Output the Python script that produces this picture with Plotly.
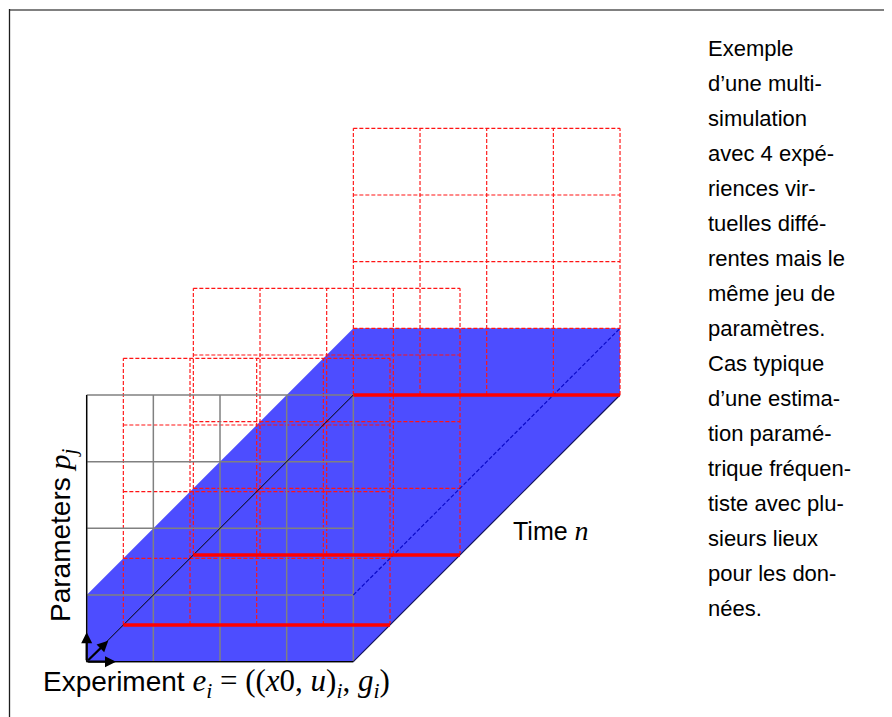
import plotly.graph_objects as go

# ---------------- data (diagram units: 1 = one grid cell) ----------------
n_cells = 4                      # experiments x parameters grid size
red_depths = [0.55, 1.6, 4.0]    # depth (time) positions of the dashed experiment grids
back_depth = 4.0                 # depth of the time slab
slab_height = 1                  # parameter thickness of the blue slab
axis_arrow_len = [0.44, 0.44, 0.45]   # up, right, diagonal arrow lengths

right_text_lines = [
    "Exemple", "d\u2019une multi-", "simulation", "avec 4 exp\u00e9-",
    "riences vir-", "tuelles diff\u00e9-", "rentes mais le", "m\u00eame jeu de",
    "param\u00e8tres.", "Cas typique", "d\u2019une estima-", "tion param\u00e9-",
    "trique fr\u00e9quen-", "tiste avec plu-", "sieurs lieux", "pour les don-",
    "n\u00e9es.",
]

label_experiment = "Experiment"
label_parameters = "Parameters"
label_time = "Time"

# ---------------- page geometry ----------------
W, H = 892, 717
PAGE = 8          # browser body margin
CELL = 66.67
OX, OY = 86.67, 661.67  # page-pixel position of the diagram origin


def ux(px):
    return (px - OX) / CELL


def vy(py):
    return (OY - py) / CELL


SANS = "Liberation Sans, Arial, Helvetica, sans-serif"
BLUE = "rgb(77,77,255)"
DASH = "4px,2px"

fig = go.Figure()


def seg(x0, y0, x1, y1, color, width, dash="solid"):
    fig.add_trace(go.Scatter(x=[x0, x1], y=[y0, y1], mode="lines",
                             line=dict(color=color, width=width, dash=dash),
                             hoverinfo="skip", showlegend=False))


# blue time slab (bottom parameter row extruded along time)
D = back_depth
hx = [0, n_cells, n_cells + D, n_cells + D, D, 0, 0]
hy = [0, 0, D, slab_height + D, slab_height + D, slab_height, 0]
fig.add_trace(go.Scatter(x=hx, y=hy, mode="lines", fill="toself",
                         fillcolor=BLUE, line=dict(width=0, color=BLUE),
                         hoverinfo="skip", showlegend=False))

# red dashed grids of the experiments
for d in red_depths:
    for i in range(n_cells + 1):
        seg(d + i, d, d + i, d + n_cells, "rgb(255,20,20)", 1.15, DASH)
        seg(d, d + i, d + n_cells, d + i, "rgb(255,20,20)", 1.15, DASH)

# gray front grid
for i in range(n_cells + 1):
    seg(i, 0, i, n_cells, "rgb(128,128,128)", 1.5)
    seg(0, i, n_cells, i, "rgb(128,128,128)", 1.5)

# black axis edges of front face
seg(0, 0, 0, n_cells, "black", 1.3)
seg(0, 0, n_cells, 0, "black", 1.3)

# slab edges
seg(0, 0, D, D, "black", 1)
seg(n_cells, 0, n_cells + D, D, "rgb(20,20,90)", 1.2)
seg(n_cells, slab_height, n_cells + D, slab_height + D, "rgb(10,10,200)", 1.2, DASH)

# red thick lines (data at each experiment depth)
for d in red_depths:
    seg(d, d, d + n_cells, d, "rgb(255,0,0)", 3.5)

annotations = []
# axis arrows at origin
for (tx, ty) in [(0, axis_arrow_len[0]), (axis_arrow_len[1], 0),
                 (axis_arrow_len[2] * 0.72, axis_arrow_len[2] * 0.7)]:
    annotations.append(dict(x=tx, y=ty, ax=0, ay=0, xref="x", yref="y",
                            axref="x", ayref="y", showarrow=True, text="",
                            arrowhead=2, arrowsize=1, arrowwidth=2.2,
                            arrowcolor="black"))

math_e = ("<span style='font-family:Liberation Serif;font-size:31px'><i>e</i><sub><i>i</i></sub>"
          " = ((<i>x</i>0, <i>u</i>)<sub><i>i</i></sub>, <i>g</i><sub><i>i</i></sub>)</span>")
annotations.append(dict(x=ux(41), y=vy(683), xref="x", yref="y", showarrow=False,
                        xanchor="left", yanchor="middle",
                        text=label_experiment + " " + math_e,
                        font=dict(family=SANS, size=28, color="black")))
annotations.append(dict(x=ux(62), y=vy(535), xref="x", yref="y", showarrow=False,
                        xanchor="center", yanchor="middle", textangle=-90,
                        text=label_parameters + " <span style='font-family:Liberation Serif;font-size:30px'><i>p</i><sub><i>j</i></sub></span>",
                        font=dict(family=SANS, size=28, color="black")))
annotations.append(dict(x=ux(511), y=vy(530), xref="x", yref="y", showarrow=False,
                        xanchor="left", yanchor="middle",
                        text=label_time + " <span style='font-family:Liberation Serif;font-size:28px'><i>n</i></span>",
                        font=dict(family=SANS, size=25, color="black")))

y0, step = 48, 35.06
for k, line in enumerate(right_text_lines):
    annotations.append(dict(x=ux(706), y=vy(y0 + k * step), xref="x", yref="y",
                            showarrow=False, xanchor="left", yanchor="middle",
                            text=line, font=dict(family=SANS, size=22, color="black")))

shapes = [
    dict(type="line", xref="paper", yref="paper", x0=(9 - PAGE) / W, x1=1,
         y0=1 - (10 - PAGE) / H, y1=1 - (10 - PAGE) / H,
         line=dict(color="rgb(128,128,128)", width=2)),
    dict(type="line", xref="paper", yref="paper", x0=(9.5 - PAGE) / W, x1=(9.5 - PAGE) / W,
         y0=0, y1=1 - (9 - PAGE) / H,
         line=dict(color="rgb(30,30,30)", width=1.3)),
]

# axis ranges expressed so that page pixel (PAGE, PAGE) is the figure's top-left corner
fig.update_layout(
    width=W, height=H, margin=dict(l=0, r=0, t=0, b=0),
    paper_bgcolor="white", plot_bgcolor="white",
    xaxis=dict(range=[ux(PAGE), ux(PAGE + W)], visible=False, fixedrange=True),
    yaxis=dict(range=[vy(PAGE + H), vy(PAGE)], visible=False, fixedrange=True),
    annotations=annotations, shapes=shapes, showlegend=False,
)

fig.write_html("out.html")
